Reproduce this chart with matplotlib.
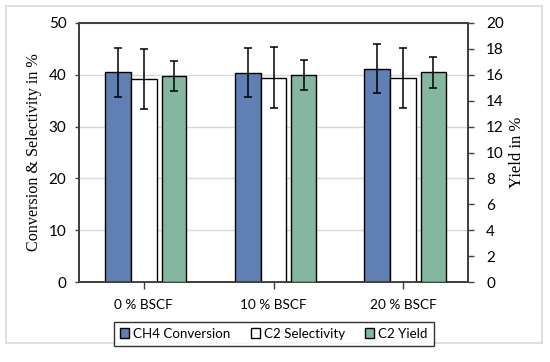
import matplotlib
matplotlib.use("Agg")
import matplotlib.pyplot as plt
import numpy as np
from matplotlib.patches import Rectangle

categories = ["0 % BSCF", "10 % BSCF", "20 % BSCF"]
ch4_conv = [40.5, 40.4, 41.2]
ch4_err = [4.7, 4.7, 4.7]
c2_sel = [39.2, 39.4, 39.4]
c2_sel_err = [5.8, 5.9, 5.8]
c2_yield = [15.9, 16.0, 16.2]
c2_yield_err = [1.15, 1.15, 1.2]

left_ticks = [0, 10, 20, 30, 40, 50]
right_ticks = [0, 2, 4, 6, 8, 10, 12, 14, 16, 18, 20]

blue = "#6080B4"
green = "#85B7A0"
tick_font = "Lato"
label_font = "Liberation Serif"

fig = plt.figure(figsize=(5.5, 3.62), dpi=100)
fig.patches.append(Rectangle((6/550, 1-343/362), (542-6)/550, (343-6)/362,
                             transform=fig.transFigure, fill=False,
                             edgecolor="#d9d9d9", linewidth=1.2))

ax = fig.add_axes([79/550, 1-282/362, (468-79)/550, (282-23)/362])
ax2 = ax.twinx()

x = np.arange(len(categories))
ekw = dict(elinewidth=1.1, capthick=1.1, ecolor="black")
ax.bar(x - 0.2, ch4_conv, width=0.2, color=blue, edgecolor="black", linewidth=1.0,
       yerr=ch4_err, capsize=3, error_kw=ekw, zorder=3, label="CH4 Conversion")
ax.bar(x, c2_sel, width=0.2, color="white", edgecolor="black", linewidth=1.0,
       yerr=c2_sel_err, capsize=3, error_kw=ekw, zorder=3, label="C2 Selectivity")
ax2.bar(x + 0.232, c2_yield, width=0.19, color=green, edgecolor="black", linewidth=1.0,
        yerr=c2_yield_err, capsize=3, error_kw=ekw, zorder=3, label="C2 Yield")

ax.set_xlim(-0.5, 2.5)
ax.set_ylim(0, 50)
ax2.set_ylim(0, 20)
ax.set_yticks(left_ticks)
ax2.set_yticks(right_ticks)
ax.set_xticks(x)
ax.set_xticklabels(categories, fontfamily=tick_font, fontsize=9.8)
for lab in ax.get_yticklabels():
    lab.set_fontfamily(tick_font); lab.set_fontsize(11)
for lab in ax2.get_yticklabels():
    lab.set_fontfamily(tick_font); lab.set_fontsize(11)

ax.yaxis.grid(True, color="#d9d9d9", linewidth=1.0, zorder=0)
ax.set_axisbelow(True)
for sp in ["left", "bottom", "top", "right"]:
    ax.spines[sp].set_color("#404040")
    ax.spines[sp].set_linewidth(1.3)
    ax2.spines[sp].set_color("#404040")
    ax2.spines[sp].set_linewidth(1.3)

ax.tick_params(axis="y", direction="out", length=3, width=1, color="#404040", pad=6)
ax.tick_params(axis="x", direction="out", length=5, width=1, color="#404040", pad=7)
ax2.tick_params(axis="y", direction="out", length=4, width=1, color="#404040", pad=9)

ax.set_ylabel("Conversion & Selectivity in %", fontfamily=label_font, fontsize=11.6, labelpad=5)
ax2.set_ylabel("Yield in %", fontfamily=label_font, fontsize=12, labelpad=4)

h1, l1 = ax.get_legend_handles_labels()
h2, l2 = ax2.get_legend_handles_labels()
leg = fig.legend(h1 + h2, l1 + l2, loc="center", bbox_to_anchor=(274/550, 1-333.5/362),
                 ncol=3, frameon=True, fancybox=False, edgecolor="black",
                 prop={"family": tick_font, "size": 9.6}, handlelength=0.7, handleheight=0.7,
                 handletextpad=0.3, columnspacing=1.5, borderpad=0.45)
leg.get_frame().set_linewidth(1.0)

fig.savefig("out.png", dpi=100)
